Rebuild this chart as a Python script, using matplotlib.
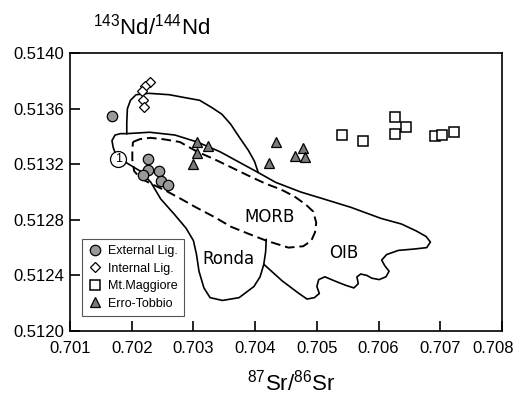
import matplotlib
matplotlib.use('Agg')
import matplotlib.pyplot as plt
from matplotlib.transforms import ScaledTranslation

plt.rcParams['font.family'] = ['Liberation Sans', 'DejaVu Sans']
plt.rcParams['mathtext.fontset'] = 'custom'
plt.rcParams['mathtext.rm'] = 'Liberation Sans'

# sample data (87Sr/86Sr, 143Nd/144Nd)
ext_sr = [0.70168, 0.70226, 0.70226, 0.70218, 0.70245, 0.70247, 0.70259]
ext_nd = [0.51355, 0.51324, 0.51316, 0.51312, 0.51315, 0.51308, 0.51305]

int_sr = [0.70229, 0.70221, 0.70216, 0.70218, 0.70220]
int_nd = [0.51379, 0.51376, 0.51373, 0.51366, 0.51361]

mtm_sr = [0.70541, 0.70575, 0.70627, 0.70645, 0.70627, 0.70692, 0.70702, 0.70723]
mtm_nd = [0.51341, 0.51337, 0.51354, 0.51347, 0.51342, 0.51340, 0.51341, 0.51343]

erro_sr = [0.70306, 0.70324, 0.70305, 0.70300, 0.70434, 0.70423, 0.70465, 0.70477, 0.70480]
erro_nd = [0.51336, 0.51333, 0.51328, 0.51320, 0.51336, 0.51321, 0.51326, 0.51332, 0.51325]

# field outlines
outer_sr = [0.70192, 0.70229, 0.70270, 0.70306, 0.70343, 0.70376, 0.70405, 0.70433,
            0.70474, 0.70511, 0.70555, 0.70604, 0.70637, 0.70661, 0.70677, 0.70684,
            0.70678, 0.70658, 0.70632, 0.70613, 0.70605, 0.70610, 0.70617, 0.70612,
            0.70601, 0.70589, 0.70581, 0.70571, 0.70565, 0.70567, 0.70560, 0.70546,
            0.70529, 0.70513, 0.70503, 0.70500, 0.70504, 0.70496, 0.70484, 0.70471,
            0.70444, 0.70414, 0.70408, 0.70398, 0.70374, 0.70347, 0.70327, 0.70317,
            0.70309, 0.70305, 0.70300, 0.70288, 0.70269, 0.70247, 0.70231, 0.70214,
            0.70199, 0.70188, 0.70175, 0.70170, 0.70168, 0.70173, 0.70182, 0.70192]
outer_nd = [0.51342, 0.51343, 0.51341, 0.51336, 0.51329, 0.51321, 0.51314, 0.51307,
            0.51300, 0.51295, 0.51289, 0.51281, 0.51277, 0.51272, 0.51268, 0.51264,
            0.51260, 0.51259, 0.51258, 0.51255, 0.51251, 0.51247, 0.51243, 0.51239,
            0.51237, 0.51238, 0.51240, 0.51241, 0.51239, 0.51234, 0.51231, 0.51233,
            0.51236, 0.51239, 0.51237, 0.51232, 0.51227, 0.51224, 0.51223, 0.51227,
            0.51236, 0.51248, 0.51239, 0.51232, 0.51224, 0.51222, 0.51224, 0.51231,
            0.51243, 0.51255, 0.51265, 0.51274, 0.51284, 0.51295, 0.51307, 0.51315,
            0.51319, 0.51322, 0.51326, 0.51332, 0.51337, 0.51341, 0.51342, 0.51342]

ronda_top_sr = [0.70192, 0.70192, 0.70193, 0.70198, 0.70207, 0.70228, 0.70261, 0.70285,
                0.70310, 0.70329, 0.70346, 0.70360, 0.70375, 0.70389, 0.70399, 0.70405]
ronda_top_nd = [0.51342, 0.51350, 0.51360, 0.51366, 0.51370, 0.51371, 0.51370, 0.51368,
                0.51366, 0.51361, 0.51356, 0.51349, 0.51339, 0.51330, 0.51322, 0.51314]

ronda_side_sr = [0.70418, 0.70417, 0.70414]
ronda_side_nd = [0.51266, 0.51257, 0.51248]

morb_sr = [0.70202, 0.70213, 0.70230, 0.70251, 0.70278, 0.70306, 0.70332, 0.70360,
           0.70388, 0.70417, 0.70441, 0.70463, 0.70482, 0.70494, 0.70499, 0.70497,
           0.70491, 0.70478, 0.70454, 0.70418, 0.70389, 0.70361, 0.70334, 0.70304,
           0.70280, 0.70255, 0.70231, 0.70214, 0.70204, 0.70201, 0.70201, 0.70202]
morb_nd = [0.51336, 0.51338, 0.51339, 0.51338, 0.51336, 0.51329, 0.51324, 0.51318,
           0.51312, 0.51306, 0.51302, 0.51297, 0.51291, 0.51286, 0.51278, 0.51271,
           0.51265, 0.51261, 0.51260, 0.51265, 0.51270, 0.51275, 0.51282, 0.51289,
           0.51295, 0.51301, 0.51306, 0.51310, 0.51315, 0.51323, 0.51330, 0.51336]

xticks = [0.701, 0.702, 0.703, 0.704, 0.705, 0.706, 0.707, 0.708]
xlabels = ['0.701', '0.702', '0.703', '0.704', '0.705', '0.706', '0.707', '0.708']
yticks = [0.5120, 0.5124, 0.5128, 0.5132, 0.5136, 0.5140]
ylabels = ['0.5120', '0.5124', '0.5128', '0.5132', '0.5136', '0.5140']

fig = plt.figure(figsize=(5.17, 3.96), dpi=100)
ax = fig.add_axes([0.1354, 0.1641, 0.8356, 0.7020])

line_kw = dict(color='black', lw=1.2, solid_joinstyle='round', solid_capstyle='round', zorder=2)
ax.plot(outer_sr, outer_nd, **line_kw)
ax.plot(ronda_top_sr, ronda_top_nd, **line_kw)
ax.plot(ronda_side_sr, ronda_side_nd, **line_kw)
ax.plot(morb_sr, morb_nd, color='black', lw=1.4, ls=(0, (5, 2.5)), zorder=2)

# field "1" marker
ax.plot([0.70178], [0.51324], marker='o', ms=11.5, mfc='white', mec='black', mew=0.9, zorder=4)
ax.text(0.70178, 0.51324, '1', ha='center', va='center', fontsize=9, zorder=5)

ax.text(0.70423, 0.51282, 'MORB', family='DejaVu Sans', fontsize=12, ha='center', va='center')
ax.text(0.70357, 0.51252, 'Ronda', family='DejaVu Sans', fontsize=12, ha='center', va='center')
ax.text(0.70543, 0.51256, 'OIB', family='DejaVu Sans', fontsize=12, ha='center', va='center')

h1, = ax.plot(ext_sr, ext_nd, 'o', ms=7.5, mfc='#999999', mec='black', mew=0.9,
              zorder=3, label='External Lig.')
h2, = ax.plot(int_sr, int_nd, 'D', ms=5.2, mfc='white', mec='black', mew=0.9,
              zorder=3, label='Internal Lig.')
h3, = ax.plot(mtm_sr, mtm_nd, 's', ms=6.5, mfc='white', mec='black', mew=1.1,
              zorder=3, label='Mt.Maggiore')
h4, = ax.plot(erro_sr, erro_nd, '^', ms=7, mfc='#7a7a7a', mec='black', mew=0.9,
              zorder=3, label='Erro-Tobbio')

leg = ax.legend(handles=[h1, h2, h3, h4], loc='lower left', bbox_to_anchor=(0.028, 0.054),
                borderaxespad=0, fontsize=9, frameon=True, fancybox=False,
                handlelength=1.0, handletextpad=0.6, labelspacing=0.45,
                borderpad=0.5, framealpha=1)
leg.get_frame().set_edgecolor('#555555')
leg.get_frame().set_linewidth(0.8)

ax.set_xlim(0.701, 0.708)
ax.set_ylim(0.5120, 0.5140)
ax.set_xticks(xticks)
ax.set_xticklabels(xlabels)
ax.set_yticks(yticks)
ax.set_yticklabels(ylabels)
ax.tick_params(axis='both', direction='in', length=7, width=1.2, labelsize=12)
ax.tick_params(axis='x', pad=7)
ax.tick_params(axis='y', pad=4)
for s in ax.spines.values():
    s.set_linewidth(1.2)

# last x label sits a little left so it stays inside the image
last = ax.get_xticklabels()[-1]
last.set_transform(last.get_transform() + ScaledTranslation(-0.09, 0, fig.dpi_scale_trans))

fig.text(93 / 517, 1 - 35 / 396, r'$^{143}$Nd/$^{144}$Nd', fontsize=16, va='baseline', ha='left')
fig.text(247 / 517, 1 - 391 / 396, r'$^{87}$Sr/$^{86}$Sr', fontsize=16, va='baseline', ha='left')

fig.savefig('out.png', dpi=100)
